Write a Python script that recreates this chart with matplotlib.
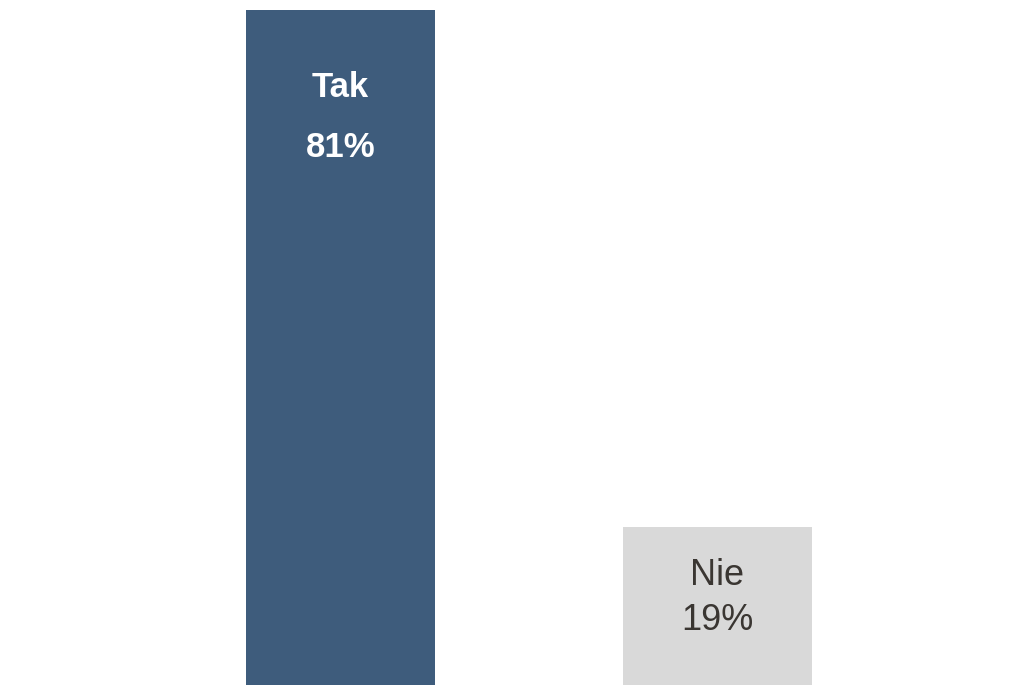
import matplotlib.pyplot as plt

# Answers and shares (%)
labels = ["Tak", "Nie"]
values = [81, 19]
colors = ["#3e5c7c", "#d9d9d9"]
text_colors = ["white", "#3a3632"]
weights = ["bold", "normal"]
sizes = [25, 26]

fig = plt.figure(figsize=(10.3, 6.85), dpi=100)
ax = fig.add_axes([0, 0, 1, 1])

x = list(range(len(values)))
ax.bar(x, values, width=0.502, color=colors)

ax.set_xlim(-0.904, 1.831)
ax.set_ylim(0, 82.2)
ax.axis("off")

# labels inside the bars, near the top
for i, (lab, v) in enumerate(zip(labels, values)):
    if v > 50:
        y1, y2 = v - 9.3, v - 16.5
    else:
        y1, y2 = v - 5.85, v - 11.25
    for y, s in ((y1, lab), (y2, f"{v}%")):
        ax.text(i, y, s, ha="center", va="center", fontsize=sizes[i],
                color=text_colors[i], fontweight=weights[i],
                family=["Liberation Sans", "DejaVu Sans"])

fig.savefig("out.png", dpi=100)
